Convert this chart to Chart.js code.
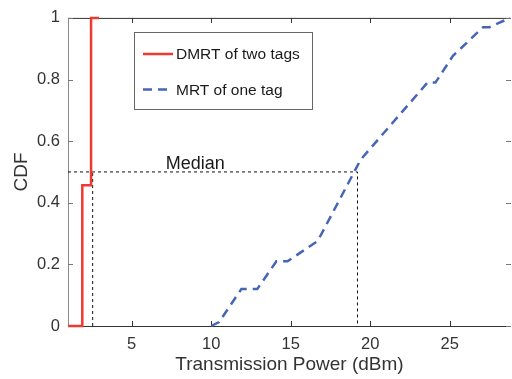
<!DOCTYPE html>
<html>
<head>
<meta charset="utf-8">
<script src="https://cdn.jsdelivr.net/npm/chart.js@4"></script>
<style>
  body { margin: 0; background: #fff; }
  #wrap { width: 512px; height: 379px; }
</style>
</head>
<body>
<div id="wrap"><canvas id="myChart" width="512" height="379"></canvas></div>
<script>
// values
const dmrtX = [1, 1.9, 1.9, 2.45, 2.45, 2.95];
const dmrtY = [0, 0, 0.457, 0.457, 1, 1];
const mrtX = [10, 10.5, 11.9, 12.9, 14.1, 14.8, 16.7, 19.4, 23.6, 24.1, 25.2, 27.1, 27.5, 28.8];
const mrtY = [0, 0.013, 0.12, 0.12, 0.21, 0.21, 0.276, 0.54, 0.79, 0.79, 0.877, 0.97, 0.97, 1];
const medianX = [2.55, 19.2];
const medianY = 0.5;
const labelX = 9.0;
const xTicks = [5, 10, 15, 20, 25];
const yTicks = [0, 0.2, 0.4, 0.6, 0.8, 1];

const FONT = "'Liberation Sans', Arial, Helvetica, sans-serif";

function pts(xs, ys) {
    return xs.map(function (x, i) { return { x: x, y: ys[i] }; });
}

const frame = {
    id: 'frame',
    beforeDatasetsDraw(chart) {
        const ctx = chart.ctx, a = chart.chartArea;
        const x = chart.scales.x, y = chart.scales.y;
        const L = 5;
        ctx.save();
        ctx.lineWidth = 1;
        // left axis a bit lighter
        ctx.strokeStyle = '#8a8a8a';
        ctx.beginPath();
        ctx.moveTo(a.left + 0.5, a.top);
        ctx.lineTo(a.left + 0.5, a.bottom);
        ctx.stroke();
        ctx.strokeStyle = '#333';
        ctx.beginPath();
        ctx.moveTo(a.left, a.bottom + 0.5);
        ctx.lineTo(a.right, a.bottom + 0.5);
        ctx.moveTo(a.left, a.top + 0.5);
        ctx.lineTo(a.right, a.top + 0.5);
        xTicks.forEach(function (v) {
            const px = Math.round(x.getPixelForValue(v)) + 0.5;
            ctx.moveTo(px, a.bottom); ctx.lineTo(px, a.bottom - L);
            ctx.moveTo(px, a.top); ctx.lineTo(px, a.top + L);
        });
        ctx.stroke();
        ctx.strokeStyle = '#777';
        ctx.beginPath();
        yTicks.forEach(function (v) {
            const py = Math.round(y.getPixelForValue(v)) + 0.5;
            ctx.moveTo(a.left, py); ctx.lineTo(a.left + L, py);
            ctx.moveTo(a.right, py); ctx.lineTo(a.right - L, py);
        });
        ctx.stroke();
        ctx.restore();
    },
    afterDatasetsDraw(chart) {
        const ctx = chart.ctx;
        const x = chart.scales.x, y = chart.scales.y;
        ctx.save();
        // median label
        ctx.fillStyle = '#1a1a1a';
        ctx.font = '18px ' + FONT;
        ctx.textAlign = 'center';
        ctx.textBaseline = 'alphabetic';
        ctx.fillText('Median', x.getPixelForValue(labelX), y.getPixelForValue(medianY) - 3);

        // legend box
        const bx = 134, by = 32, bw = 178, bh = 77;
        ctx.fillStyle = '#fff';
        ctx.fillRect(bx, by, bw, bh);
        ctx.strokeStyle = '#666';
        ctx.lineWidth = 1;
        ctx.strokeRect(bx + 0.5, by + 0.5, bw, bh);
        const items = chart.data.datasets.filter(function (d) { return d.label; });
        items.forEach(function (d, i) {
            const ly = 54 + i * 35.5;
            ctx.strokeStyle = d.borderColor;
            ctx.lineWidth = d.borderWidth;
            ctx.setLineDash(d.borderDash || []);
            ctx.beginPath();
            ctx.moveTo(143, ly);
            ctx.lineTo(173, ly);
            ctx.stroke();
            ctx.setLineDash([]);
            ctx.fillStyle = '#1a1a1a';
            ctx.font = '15.5px ' + FONT;
            ctx.textAlign = 'left';
            ctx.textBaseline = 'middle';
            ctx.fillText(d.label, 176, ly + 1);
        });
        ctx.restore();
    }
};

const ctx = document.getElementById('myChart');

new Chart(ctx, {
    type: 'scatter',
    data: {
        datasets: [{
            label: 'DMRT of two tags',
            data: pts(dmrtX, dmrtY),
            showLine: true,
            borderColor: '#ee3a30',
            borderWidth: 2.5,
            pointRadius: 0,
            clip: 4,
            order: 1
        }, {
            label: 'MRT of one tag',
            data: pts(mrtX, mrtY),
            showLine: true,
            borderColor: '#4565b5',
            borderWidth: 2.5,
            borderDash: [9, 6],
            pointRadius: 0,
            clip: 4,
            order: 2
        }, {
            data: [{ x: 1, y: medianY }, { x: medianX[1], y: medianY }, { x: medianX[1], y: 0 }],
            showLine: true,
            borderColor: '#111',
            borderWidth: 1,
            borderDash: [3, 3],
            pointRadius: 0,
            order: 3
        }, {
            data: [{ x: medianX[0], y: 0 }, { x: medianX[0], y: medianY }],
            showLine: true,
            borderColor: '#111',
            borderWidth: 1,
            borderDash: [3, 3],
            pointRadius: 0,
            order: 3
        }]
    },
    plugins: [frame],
    options: {
        responsive: false,
        animation: false,
        layout: { padding: { top: 15, right: 1, left: 0, bottom: 0 } },
        plugins: {
            legend: { display: false },
            tooltip: { enabled: false }
        },
        scales: {
            x: {
                type: 'linear',
                min: 1,
                max: 28.85,
                afterFit: function (s) { s.height = 53; },
                afterBuildTicks: function (s) {
                    s.ticks = xTicks.map(function (v) { return { value: v }; });
                },
                grid: { display: false, drawTicks: false, tickLength: 0 },
                border: { display: false },
                ticks: {
                    padding: 9,
                    color: '#333',
                    font: { family: FONT, size: 16.5 },
                    maxRotation: 0
                },
                title: {
                    display: true,
                    text: 'Transmission Power (dBm)',
                    color: '#333',
                    font: { family: FONT, size: 19 },
                    padding: { top: 0, bottom: 3 }
                }
            },
            y: {
                type: 'linear',
                min: 0,
                max: 1,
                afterFit: function (s) { s.width = 68; },
                afterBuildTicks: function (s) {
                    s.ticks = yTicks.map(function (v) { return { value: v }; });
                },
                grid: { display: false, drawTicks: false, tickLength: 0 },
                border: { display: false },
                ticks: {
                    padding: 8,
                    color: '#333',
                    font: { family: FONT, size: 16.5 },
                    callback: function (v) { return String(Math.round(v * 10) / 10); }
                },
                title: {
                    display: true,
                    text: 'CDF',
                    color: '#333',
                    font: { family: FONT, size: 19 },
                    padding: { top: 10, bottom: 0 }
                }
            }
        }
    }
});
</script>
</body>
</html>
